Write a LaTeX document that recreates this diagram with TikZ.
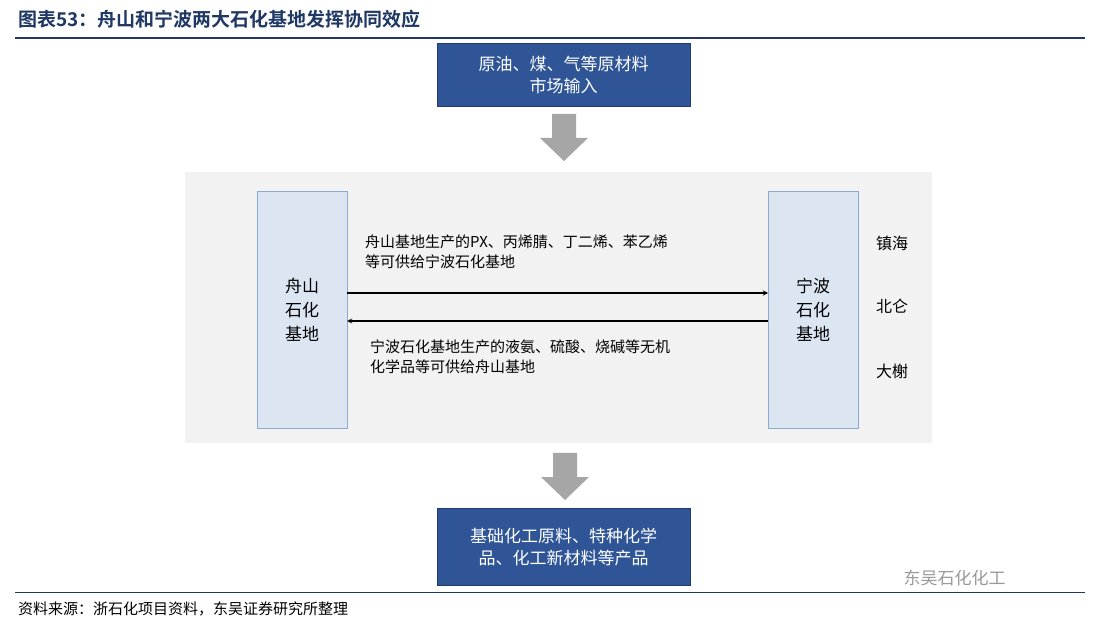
\documentclass[tikz,border=0pt]{standalone}
\usepackage{fontspec}
\setmainfont{Noto Sans CJK SC}
\newfontfamily\cjkb{Noto Sans CJK SC Bold}
\definecolor{navy}{HTML}{1F3864}
\definecolor{boxblue}{HTML}{2F5597}
\definecolor{lblue}{HTML}{DCE6F2}
\definecolor{lborder}{HTML}{8EA9CF}
\tikzset{
  x=1pt,y=-1pt,
  bluebox/.style={fill=boxblue,draw=boxblue!70!black,text=white,minimum width=253pt,minimum height=63pt,align=center,font=\fontsize{17}{22}\selectfont,anchor=north west},
  sidebox/.style={fill=lblue,draw=lborder,minimum width=90pt,minimum height=237pt,align=center,font=\fontsize{17}{24}\selectfont,anchor=north west},
  downarr/.style={fill=gray!70},
  lbl/.style={font=\fontsize{15}{20}\selectfont,align=left,anchor=north west,inner sep=0pt},
  conn/.style={-stealth,line width=1.3pt}
}
\newcommand{\darr}[2]{\fill[downarr] (#1-12,#2) -- (#1+12,#2) -- (#1+12,#2+24) -- (#1+24,#2+24) -- (#1,#2+47) -- (#1-24,#2+24) -- (#1-12,#2+24) -- cycle;}
\begin{document}
\begin{tikzpicture}
\useasboundingbox (0,0) rectangle (1096,628);
\fill[white] (0,0) rectangle (1096,628);
\node[anchor=west,inner sep=0pt,text=navy,font=\cjkb\fontsize{19}{22}\selectfont] (title) at (18,19) {图表53：舟山和宁波两大石化基地发挥协同效应};
\draw[navy,line width=1.5pt] (15,38) -- (1085,38);
\node[bluebox] (top) at (437,43) {原油、煤、气等原材料\\市场输入};
\darr{564}{114}
\fill[gray!10] (185,172) rectangle (932,443);
\node[sidebox] (zs) at (257,191) {舟山\\石化\\基地};
\node[sidebox] (nb) at (768,191) {宁波\\石化\\基地};
\coordinate (p1) at (347,293); \coordinate (q1) at (768,293);
\coordinate (p2) at (768,321); \coordinate (q2) at (347,321);
\draw[conn] (p1) -- (q1);
\draw[conn] (p2) -- (q2);
\node[lbl] (t1) at (365,235) {舟山基地生产的PX、丙烯腈、丁二烯、苯乙烯\\等可供给宁波石化基地};
\node[lbl] (t2) at (370,340) {宁波石化基地生产的液氨、硫酸、烧碱等无机\\化学品等可供给舟山基地};
\node[font=\fontsize{16}{20}\selectfont] (zh) at (892,243) {镇海};
\node[font=\fontsize{16}{20}\selectfont] (bl) at (892,306) {北仑};
\node[font=\fontsize{16}{20}\selectfont] (dx) at (892,371) {大榭};
\darr{565}{453}
\node[bluebox,minimum height=77pt] (bot) at (437,508) {基础化工原料、特种化学\\品、化工新材料等产品};
\node[anchor=west,text=gray!80,font=\fontsize{17}{20}\selectfont] (wm) at (900,578) {东吴石化化工};
\draw[navy,line width=1pt] (15,592) -- (1085,592);
\node[anchor=west,inner sep=0pt,font=\fontsize{15}{18}\selectfont] (src) at (18,609) {资料来源：浙石化项目资料，东吴证券研究所整理};
\end{tikzpicture}
\end{document}
